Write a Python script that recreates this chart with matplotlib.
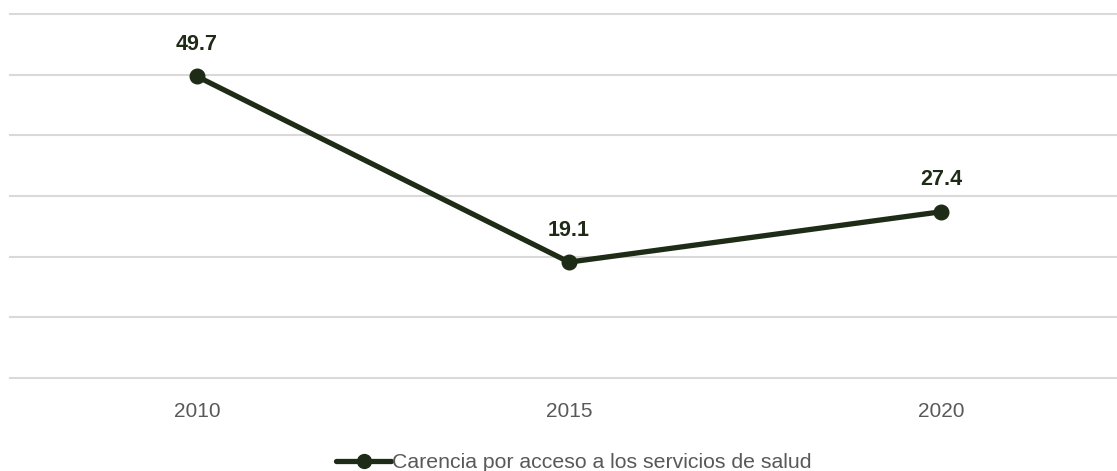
import matplotlib.pyplot as plt

years = ['2010', '2015', '2020']
valores = [49.7, 19.1, 27.4]
serie = 'Carencia por acceso a los servicios de salud'

color_linea = '#1e2b16'

plt.rcParams['font.family'] = ['Liberation Sans', 'DejaVu Sans']

fig = plt.figure(figsize=(11.17, 4.71), dpi=100)
ax = fig.add_axes([10 / 1117, 1 - 378 / 471, 1 - 10 / 1117, 364 / 471])

x = range(len(years))
ax.plot(x, valores, color=color_linea, linewidth=3.8, marker='o',
        markersize=10.5, label=serie, solid_capstyle='round')

for xi, v in zip(x, valores):
    ax.annotate(f'{v:.1f}', (xi, v), xytext=(0, 23), textcoords='offset points',
                ha='center', va='center', fontsize=15.5, fontweight='bold',
                color=color_linea)

ax.set_ylim(0, 60)
ax.set_xlim(-0.503, 2.473)
ax.set_yticks(range(0, 61, 10))
ax.set_yticklabels([])
ax.set_xticks(list(x))
ax.set_xticklabels(years, fontsize=15, color='#595959')
ax.tick_params(axis='both', length=0, pad=17)
ax.grid(axis='y', color='#d9d9d9', linewidth=1.5)
for gl in ax.get_ygridlines():
    gl.set_clip_on(False)
ax.set_axisbelow(True)
for s in ax.spines.values():
    s.set_visible(False)

fig.legend(loc='center', bbox_to_anchor=(574 / 1117, 1 - 463 / 471), frameon=False,
           fontsize=15.3, labelcolor='#595959', handlelength=2.6, handletextpad=0.05,
           markerscale=0.95, borderaxespad=0)

fig.savefig('out.png', dpi=100)
